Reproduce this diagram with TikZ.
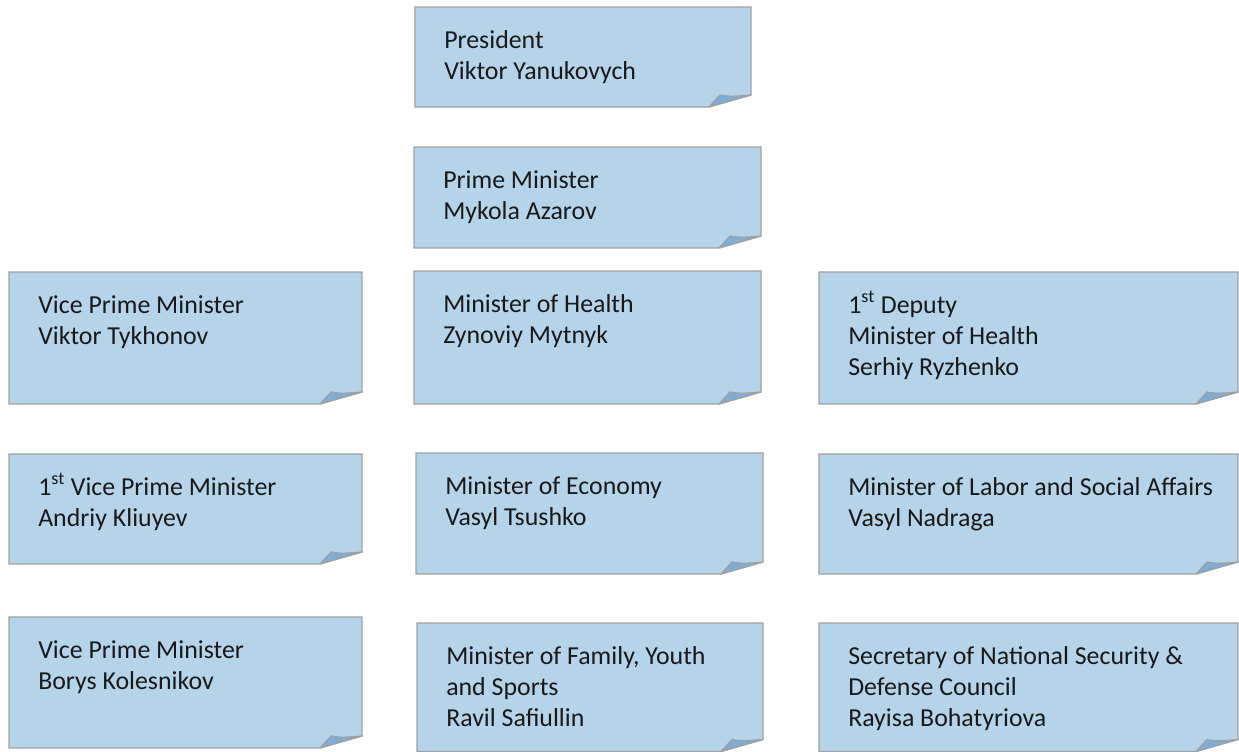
\documentclass[tikz,border=0pt]{standalone}
\usepackage{fontspec}
\setmainfont{Carlito}
\definecolor{notefill}{RGB}{181,212,233}
\definecolor{flapfill}{RGB}{126,173,213}
\definecolor{noteline}{RGB}{160,160,160}
\tikzset{
  noteshape/.style={fill=notefill, draw=noteline, line width=0.9pt, line join=miter},
  flapshape/.style={fill=flapfill, draw=noteline, line width=0.9pt, line join=round},
  notetext/.style={anchor=base west, inner sep=0pt,
    font=\fontsize{19.4pt}{23.25pt}\selectfont, text=black!90},
}
% #1 name, #2 left, #3 top, #4 right, #5 bottom, #6 text lines
% the text block hangs from the baseline of its first line
\newcommand\stickynote[6]{%
  \path[noteshape] (#2,#3) -- (#4,#3) -- (#4,#5-12) -- (#4-42,#5) -- (#2,#5) -- cycle;
  \path[flapshape] (#4-42,#5) -- (#4-31,#5-12)
     .. controls (#4-22,#5-10) and (#4-12,#5-11) .. (#4,#5-12) -- cycle;
  \node[notetext] (#1) at (#2+29,#3+41)
     {\begin{tabular}[t]{@{}l@{}}#6\end{tabular}};
}
\begin{document}
\begin{tikzpicture}[x=0.75pt,y=-0.75pt]
\useasboundingbox[fill=white] (0,0) rectangle (1239,751);
% top of the hierarchy
\stickynote{president}{415}{7}{751}{107}{President\\Viktor Yanukovych}
\stickynote{premier}{414}{147}{761}{248}{Prime Minister\\Mykola Azarov}
% first row
\stickynote{vpmTykhonov}{9}{272}{362}{404}{Vice Prime Minister\\Viktor Tykhonov}
\stickynote{health}{414}{271}{761}{404}{Minister of Health\\Zynoviy Mytnyk}
\stickynote{deputyHealth}{819}{272}{1238}{404}{1\textsuperscript{st} Deputy\\Minister of Health\\Serhiy Ryzhenko}
% second row
\stickynote{vpmKliuyev}{9}{454}{362}{564}{1\textsuperscript{st} Vice Prime Minister\\Andriy Kliuyev}
\stickynote{economy}{416}{453}{763}{574}{Minister of Economy\\Vasyl Tsushko}
\stickynote{labor}{819}{454}{1238}{574}{Minister of Labor and Social Affairs\\Vasyl Nadraga}
% third row
\stickynote{vpmKolesnikov}{9}{617}{362}{748}{Vice Prime Minister\\Borys Kolesnikov}
\stickynote{family}{417}{623}{763}{751.5}{Minister of Family, Youth\\and Sports\\Ravil Safiullin}
\stickynote{security}{819}{623}{1238}{751.5}{Secretary of National Security \&\\Defense Council\\Rayisa Bohatyriova}
\end{tikzpicture}
\end{document}
